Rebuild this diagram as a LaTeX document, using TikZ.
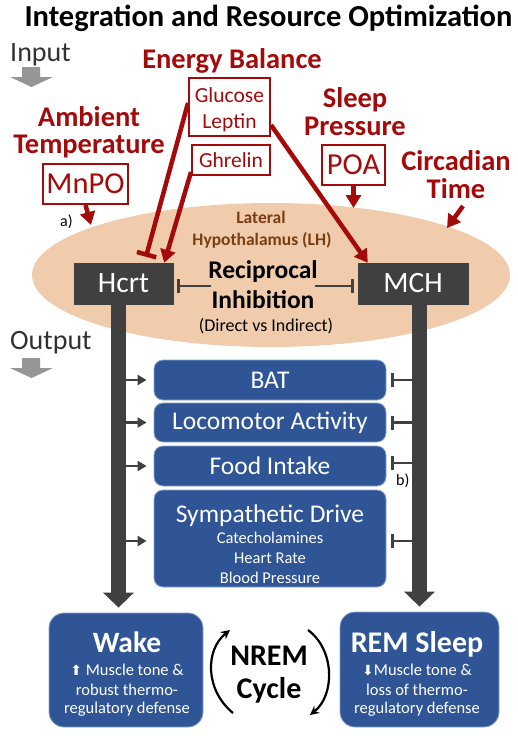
\documentclass[tikz,border=0pt]{standalone}
\usepackage{fontspec}
\setmainfont{Carlito}
\newfontfamily\symfont{DejaVu Sans}
\usetikzlibrary{arrows.meta,calc,shapes.geometric}
\definecolor{dred}{RGB}{165,10,10}
\definecolor{dgray}{RGB}{64,64,64}
\definecolor{peach}{RGB}{240,204,172}
\definecolor{brn}{RGB}{120,62,20}
\definecolor{bblue}{RGB}{47,85,151}
\definecolor{bedge}{RGB}{140,165,205}
\definecolor{tgray}{RGB}{50,50,50}
\definecolor{agray}{RGB}{150,150,150}
\newcommand\myfs[1]{\fontsize{#1}{#1}\selectfont}
\begin{document}
\begin{tikzpicture}[x=1pt,y=-1pt,
  txt/.style={inner sep=0pt,anchor=base},
  hd/.style={txt,font=\bfseries\myfs{28.5},text=dred},
  rbox/.style={draw=dred,line width=2pt,fill=white,inner sep=2pt,text=dred},
  rtxt/.style={txt,font=\myfs{21.5},text=dred},
  gbox/.style={fill=dgray,draw=dgray,text=white,font=\myfs{29.5},inner sep=2pt},
  bbox/.style={fill=bblue,draw=bedge,line width=0.8pt,rounded corners=9pt,text=white,font=\myfs{25.5},inner sep=2pt},
  wtxt/.style={txt,text=white},
  rarr/.style={draw=dred,line width=4.5pt,-{Triangle[length=13pt,width=15pt]}},
  rinh/.style={draw=dred,line width=4.5pt,-{Bar[width=20pt]}},
  ginh/.style={draw=dgray,line width=2.5pt,-{Bar[width=14pt]}},
  sarr/.style={draw=dgray,line width=2.5pt,-{Triangle[length=9pt,width=10pt]},shorten >=7pt},
  sinh/.style={ginh,shorten >=5pt},
  gbar/.style={draw=dgray,line width=15pt,-{Triangle[length=15pt,width=30pt]},shorten >=5pt},
  cyc/.style={draw=black,line width=2.2pt,-{Stealth[length=9pt,width=9pt]}}
]
\useasboundingbox (0,0) rectangle (517,736);

% title
\node[txt,font=\bfseries\myfs{30.5}] (title) at (268.5,27) {Integration and Resource Optimization};

% input / output labels and grey arrows
\node[txt,anchor=base west,font=\myfs{28},text=tgray] (inp) at (10,61) {Input};
\fill[agray] (22,67) -- (40,67) -- (40,77) -- (53,77) -- (31.5,87) -- (10,77) -- (22,77) -- cycle;
\node[txt,anchor=base west,font=\myfs{28},text=tgray] (outp) at (10,349) {Output};
\fill[agray] (22,358) -- (40,358) -- (40,368) -- (53,368) -- (31.5,378) -- (10,368) -- (22,368) -- cycle;

% lateral hypothalamus
\node[ellipse,fill=peach,minimum width=478pt,minimum height=144pt,inner sep=0pt] (lh) at (271,275) {};
\node[txt,font=\bfseries\myfs{17.5},text=brn] (lat1) at (261,223) {Lateral};
\node[txt,font=\bfseries\myfs{17.5},text=brn] (lat2) at (262,245) {Hypothalamus (LH)};

% input headings
\node[hd] (amb1) at (89,126) {Ambient};
\node[hd] (amb2) at (89,153) {Temperature};
\node[hd] (eb) at (232,68) {Energy Balance};
\node[hd] (sp1) at (355,107) {Sleep};
\node[hd] (sp2) at (355,135) {Pressure};
\node[hd] (ct1) at (456,170) {Circadian};
\node[hd] (ct2) at (456,198) {Time};

% red boxes
\node[rbox,minimum width=81pt,minimum height=58pt] (gl) at (229.5,107) {};
\node[rtxt] (glu) at (229.5,102) {Glucose};
\node[rtxt] (lep) at (229.5,128) {Leptin};
\node[rbox,minimum width=78pt,minimum height=30pt,font=\myfs{21.5}] (gh) at (231,160) {Ghrelin};
\node[rbox,minimum width=85pt,minimum height=40pt,font=\myfs{30.5}] (mnpo) at (85.5,184) {MnPO};
\node[rbox,minimum width=63pt,minimum height=40pt,font=\myfs{30.5}] (poa) at (353.5,165) {POA};
\node[txt,anchor=base west,font=\myfs{16}] (la) at (60,226) {a)};

% Hcrt / MCH
\node[gbox,minimum width=99pt,minimum height=41pt] (hcrt) at (123.5,283.5) {Hcrt};
\node[gbox,minimum width=110pt,minimum height=41pt] (mch) at (413,283.5) {MCH};

% reciprocal inhibition
\node[txt,font=\bfseries\myfs{25.5}] (rec1) at (263,278) {Reciprocal};
\node[txt,font=\bfseries\myfs{25.5}] (rec2) at (263,308) {Inhibition};
\node[txt,font=\myfs{18}] (rec3) at (266,331) {(Direct vs Indirect)};
\coordinate (rl) at ($(rec1.base west)+(3,8)$);
\coordinate (rr) at ($(rec1.base east)+(-3,8)$);
\draw[ginh,shorten >=4pt] (rl) -- (rl -| hcrt.east);
\draw[ginh,shorten >=4pt] (rr) -- (rr -| mch.west);

% red connectors
\coordinate (lhA) at (91,225);
\coordinate (lhB) at (353.5,208);
\coordinate (lhC) at (447,228);
\draw[rarr] (mnpo.south) -- (lhA);
\draw[rarr] (poa.south) -- (lhB);
\draw[rarr] ([xshift=7pt,yshift=-8pt]ct2.base) -- (lhC);
\draw[rarr] ([yshift=-18pt]gl.east) -- ([xshift=10pt]mch.north west);
\draw[rinh] ([yshift=4pt]gl.west) -- ([xshift=22.5pt,yshift=6pt]hcrt.north);
\draw[rarr] ([yshift=-12pt]gh.west) -- ([xshift=-9pt]hcrt.north east);

% output boxes
\node[bbox,minimum width=232pt,minimum height=40pt] (bat) at (270,380) {BAT};
\node[bbox,minimum width=232pt,minimum height=39pt] (loco) at (270,422.5) {Locomotor Activity};
\node[bbox,minimum width=232pt,minimum height=40pt] (food) at (270,466) {Food Intake};
\node[bbox,minimum width=232pt,minimum height=97pt] (symp) at (270,538.5) {};
\node[wtxt,font=\myfs{25.5}] (sy1) at (270,522) {Sympathetic Drive};
\node[wtxt,font=\myfs{16.5}] (sy2) at (270,543) {Catecholamines};
\node[wtxt,font=\myfs{16.5}] (sy3) at (270,563) {Heart Rate};
\node[wtxt,font=\myfs{16.5}] (sy4) at (270,583) {Blood Pressure};
\node[txt,anchor=base west,font=\myfs{16}] (lb) at (396,485) {b)};

% state boxes
\node[bbox,rounded corners=15pt,minimum width=154pt,minimum height=114pt] (wake) at (126,670) {};
\node[wtxt,font=\bfseries\myfs{29.5}] (wk1) at (127,652) {Wake};
\node[wtxt,font=\myfs{16.5}] (wk2) at (127,675) {{\symfont\myfs{14}⬆} Muscle tone \&};
\node[wtxt,font=\myfs{16.5}] (wk3) at (127,695) {robust thermo-};
\node[wtxt,font=\myfs{16.5}] (wk4) at (127,713) {regulatory defense};
\node[bbox,rounded corners=15pt,minimum width=159pt,minimum height=115pt] (rem) at (419.5,669.5) {};
\node[wtxt,font=\bfseries\myfs{30}] (rm1) at (417,652) {REM Sleep};
\node[wtxt,font=\myfs{16.5}] (rm2) at (417,675) {{\symfont\myfs{14}⬇}Muscle tone \&};
\node[wtxt,font=\myfs{16.5}] (rm3) at (417,695) {loss of thermo-};
\node[wtxt,font=\myfs{16.5}] (rm4) at (417,713) {regulatory defense};

% NREM cycle
\node[txt,font=\bfseries\myfs{30}] (nr1) at (269,665) {NREM};
\node[txt,font=\bfseries\myfs{30}] (nr2) at (269,698) {Cycle};
\draw[cyc] (233,713) .. controls (205,690) and (205,650) .. (230,630);
\draw[cyc] (308,630) .. controls (335,650) and (335,695) .. (310,715);

% output pathways
\coordinate (hb) at ([xshift=-5pt]hcrt.south);
\coordinate (mb) at ([xshift=6.5pt]mch.south);
\draw[sarr] (bat.west -| hb) -- (bat.west);
\draw[sarr] (loco.west -| hb) -- (loco.west);
\draw[sarr] (food.west -| hb) -- (food.west);
\draw[sarr] ([yshift=-2.5pt]symp.west -| hb) -- ([yshift=-2.5pt]symp.west);
\draw[sinh] (bat.east -| mb) -- (bat.east);
\draw[sinh] (loco.east -| mb) -- (loco.east);
\draw[sinh] ([yshift=3pt]food.east -| mb) -- ([yshift=3pt]food.east);
\draw[sinh] ([yshift=-2.5pt]symp.east -| mb) -- ([yshift=-2.5pt]symp.east);
\draw[gbar] (hb) -- (hb |- wake.north);
\draw[gbar] (mb) -- (mb |- rem.north);
\end{tikzpicture}
\end{document}
